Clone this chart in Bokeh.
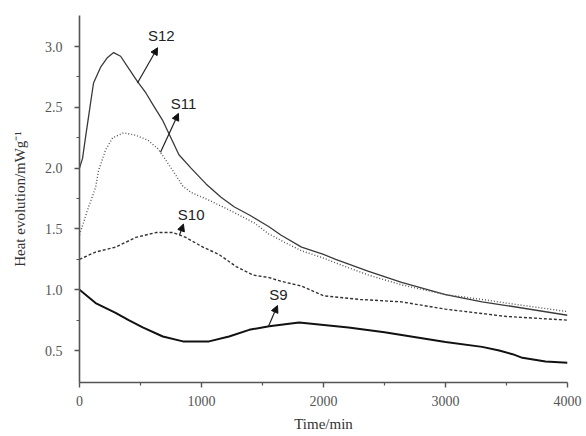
from bokeh.plotting import figure
from bokeh.models import Range1d, FixedTicker, Arrow, NormalHead, Label
from bokeh.embed import file_html
from bokeh.resources import INLINE

# ---- data ----
s12_t = [0, 25, 49, 90, 115, 173, 230, 280, 337, 403, 477, 543, 609, 683, 749, 815, 914, 1037, 1160, 1270, 1400, 1550, 1650, 1820, 2000, 2100, 2370, 2640, 3000, 3300, 3500, 4000]
s12_y = [2.00, 2.08, 2.25, 2.53, 2.70, 2.83, 2.91, 2.95, 2.92, 2.82, 2.71, 2.62, 2.51, 2.39, 2.25, 2.11, 2.00, 1.87, 1.76, 1.68, 1.61, 1.52, 1.45, 1.35, 1.29, 1.25, 1.15, 1.06, 0.96, 0.90, 0.87, 0.79]

s11_t = [0, 74, 132, 156, 214, 272, 362, 461, 560, 642, 691, 765, 848, 914, 1053, 1218, 1432, 1550, 1680, 1820, 2000, 2100, 2370, 2640, 3000, 3300, 3500, 4000]
s11_y = [1.45, 1.68, 1.84, 1.98, 2.15, 2.25, 2.29, 2.27, 2.23, 2.16, 2.09, 1.98, 1.85, 1.80, 1.74, 1.66, 1.55, 1.46, 1.39, 1.32, 1.26, 1.22, 1.12, 1.04, 0.96, 0.92, 0.89, 0.82]

s10_t = [0, 132, 296, 461, 626, 765, 872, 1012, 1144, 1284, 1424, 1555, 1650, 1820, 2000, 2300, 2640, 3000, 3500, 4000]
s10_y = [1.25, 1.31, 1.35, 1.43, 1.47, 1.47, 1.43, 1.35, 1.29, 1.19, 1.12, 1.10, 1.07, 1.03, 0.95, 0.92, 0.90, 0.84, 0.78, 0.75]

s9_t = [0, 132, 296, 403, 518, 683, 848, 1062, 1226, 1391, 1555, 1800, 2205, 2500, 3000, 3300, 3440, 3550, 3630, 3820, 4000]
s9_y = [1.00, 0.89, 0.81, 0.75, 0.69, 0.615, 0.575, 0.575, 0.615, 0.67, 0.70, 0.73, 0.69, 0.65, 0.57, 0.53, 0.50, 0.47, 0.44, 0.41, 0.40]

x_ticks = [0, 1000, 2000, 3000, 4000]
x_minor = [500, 1500, 2500, 3500]
y_ticks = [0.5, 1.0, 1.5, 2.0, 2.5, 3.0]
y_minor = [0.75, 1.25, 1.75, 2.25, 2.75]

# labels: name, text position, arrow start, arrow end (data coords)
label_names = ["S12", "S11", "S10", "S9"]
label_x = [670, 853, 915, 1630]
label_y = [3.09, 2.53, 1.62, 0.96]
arrow_x0 = [475, 664, 820, 1549]
arrow_y0 = [2.70, 2.13, 1.45, 0.70]
arrow_x1 = [640, 811, 852, 1623]
arrow_y1 = [2.99, 2.45, 1.54, 0.87]

p = figure(width=586, height=436, output_backend="svg", toolbar_location=None,
           x_range=Range1d(0, 4000), y_range=Range1d(0.237, 3.255),
           min_border_left=79, min_border_right=19, min_border_top=15, min_border_bottom=54)
p.frame_width = 488
p.frame_height = 367
p.outline_line_color = None
p.grid.visible = False
p.background_fill_color = "white"
p.border_fill_color = "white"

p.line(s12_t, s12_y, line_color="#3a3a3a", line_width=1.3)
p.line(s11_t, s11_y, line_color="#555555", line_width=1.4, line_dash="1 2")
p.line(s10_t, s10_y, line_color="#333333", line_width=1.4, line_dash="3 2")
p.line(s9_t, s9_y, line_color="#111111", line_width=2.0)

for i in range(len(label_names)):
    p.add_layout(Arrow(end=NormalHead(size=7, fill_color="#111111", line_color="#111111"),
                       x_start=arrow_x0[i], y_start=arrow_y0[i], x_end=arrow_x1[i], y_end=arrow_y1[i],
                       line_color="#222222", line_width=1.2))
    p.add_layout(Label(x=label_x[i], y=label_y[i], text=label_names[i], text_align="center",
                       text_baseline="middle", text_font="Liberation Sans", text_font_size="15px",
                       text_color="#222222"))

for ax in (p.xaxis[0], p.yaxis[0]):
    ax.axis_line_color = "#555555"
    ax.axis_line_width = 1.6
    ax.major_tick_line_color = "#555555"
    ax.minor_tick_line_color = "#555555"
    ax.major_tick_line_width = 1.4
    ax.minor_tick_line_width = 1.2
    ax.major_tick_out = 5
    ax.major_tick_in = 0
    ax.minor_tick_out = 3
    ax.minor_tick_in = 0
    ax.major_label_text_font = "Liberation Serif"
    ax.major_label_text_font_size = "14px"
    ax.major_label_text_color = "#555555"
    ax.axis_label_text_font = "Liberation Serif"
    ax.axis_label_text_font_size = "15px"
    ax.axis_label_text_font_style = "normal"
    ax.axis_label_text_color = "#333333"

p.xaxis.ticker = FixedTicker(ticks=x_ticks, minor_ticks=x_minor)
p.yaxis.ticker = FixedTicker(ticks=y_ticks, minor_ticks=y_minor)
p.yaxis.major_label_overrides = {v: f"{v:.1f}" for v in y_ticks}
p.xaxis.axis_label = "Time/min"
p.yaxis.axis_label = "Heat evolution/mWg\u207b\u00b9"
p.xaxis.major_label_standoff = 8
p.yaxis.major_label_standoff = 12
p.xaxis.axis_label_standoff = 7
p.yaxis.axis_label_standoff = 14

open("out.html", "w").write(file_html(p, INLINE))
